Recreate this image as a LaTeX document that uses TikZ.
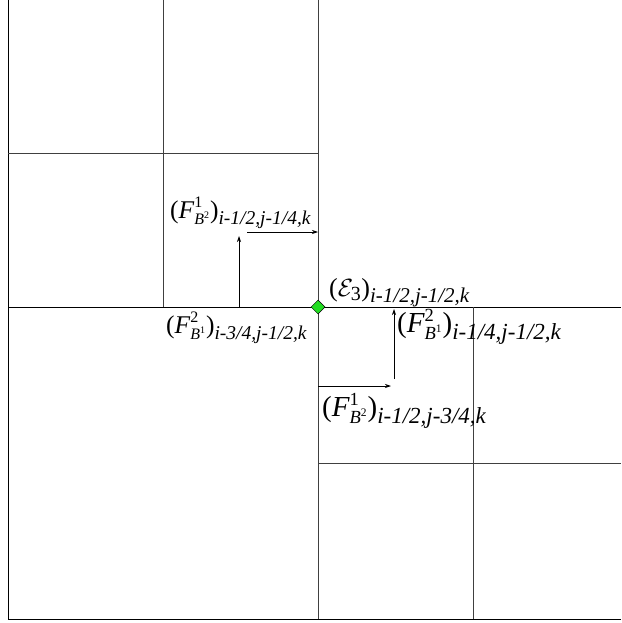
\documentclass[tikz,border=0pt]{standalone}
\usepackage{fontspec}
\usepackage{amsmath}
\setmainfont{Liberation Serif}
\usetikzlibrary{shapes.geometric,arrows.meta}
\definecolor{vgreen}{RGB}{34,221,34}
\tikzset{
  gridline/.style={line width=0.9pt,draw=black!75},
  hline/.style={line width=0.9pt,draw=black},
  flux/.style={line width=0.7pt,-{Stealth[length=6pt,width=4pt]}},
  lab/.style={inner sep=0pt,anchor=base west},
  vert/.style={diamond,fill=vgreen,draw=black,line width=0.5pt,inner sep=0pt,minimum size=14pt}
}
\newcommand{\sz}[1]{\fontsize{#1}{#1}\selectfont}
% #1 main, #2 sub, #3 small, #4 tiny, #5 top digit, #6 B digit, #7 index
\newcommand{\fluxlab}[7]{\sz{#1}$\text{(}\text{\itshape F}^{\text{\sz{#3}#5}}_{\text{\sz{#3}\itshape B}^{\text{\sz{#4}#6}}}\text{)}_{\text{\sz{#2}\itshape #7}}$}
\begin{document}
\begin{tikzpicture}[x=1pt,y=-1pt]
\useasboundingbox (0,0) rectangle (621,623);
% grid coordinates
\coordinate (LT) at (8,0);
\coordinate (LB) at (8,619);
\coordinate (RB) at (621,619);
\coordinate (MT) at (318,0);
\coordinate (MB) at (318,619);
\coordinate (ML) at (8,307);
\coordinate (MR) at (621,307);
\coordinate (QT) at (163,0);
\coordinate (QB) at (163,307);
\coordinate (QL) at (8,153);
\coordinate (QR) at (318,153);
\coordinate (SL) at (318,463);
\coordinate (SR) at (621,463);
\coordinate (ST) at (473,307);
\coordinate (SB) at (473,619);
% outer border
\draw[hline] (LT) -- (LB) -- (RB);
% main lines
\draw[gridline] (MT) -- (MB);
\draw[hline] (ML) -- (MR);
% upper-left refinement
\draw[gridline] (QT) -- (QB);
\draw[gridline] (QL) -- (QR);
% lower-right refinement
\draw[gridline] (SL) -- (SR);
\draw[gridline] (ST) -- (SB);
% flux arrows
\coordinate (a1s) at (247,232);
\coordinate (a1e) at (318,232);
\coordinate (a2s) at (239,307);
\coordinate (a2e) at (239,236);
\coordinate (a3s) at (394,379);
\coordinate (a3e) at (394,309);
\coordinate (a4s) at (318,386);
\coordinate (a4e) at (391,386);
\draw[flux] (a1s) -- (a1e);
\draw[flux] (a2s) -- (a2e);
\draw[flux] (a3s) -- (a3e);
\draw[flux] (a4s) -- (a4e);
% vertex
\node[vert] (E) at (318,307) {};
% labels
\node[lab] (L1) at (170,218) {\fluxlab{25.5}{19.5}{16}{10}{1}{2}{i-1/2,j-1/4,k}};
\node[lab] (L2) at (166,333) {\fluxlab{25.5}{19.5}{16}{10}{2}{1}{i-3/4,j-1/2,k}};
\node[lab] (L3) at (329,296) {\sz{26}$\text{(}\mathcal{E}_{\text{\sz{20}3}}\text{)}_{\text{\sz{21}\itshape i-1/2,j-1/2,k}}$};
\node[lab] (L4) at (397,332) {\fluxlab{29}{23}{18.5}{11.5}{2}{1}{i-1/4,j-1/2,k}};
\node[lab] (L5) at (322,416) {\fluxlab{29}{23}{18.5}{11.5}{1}{2}{i-1/2,j-3/4,k}};
\end{tikzpicture}
\end{document}
